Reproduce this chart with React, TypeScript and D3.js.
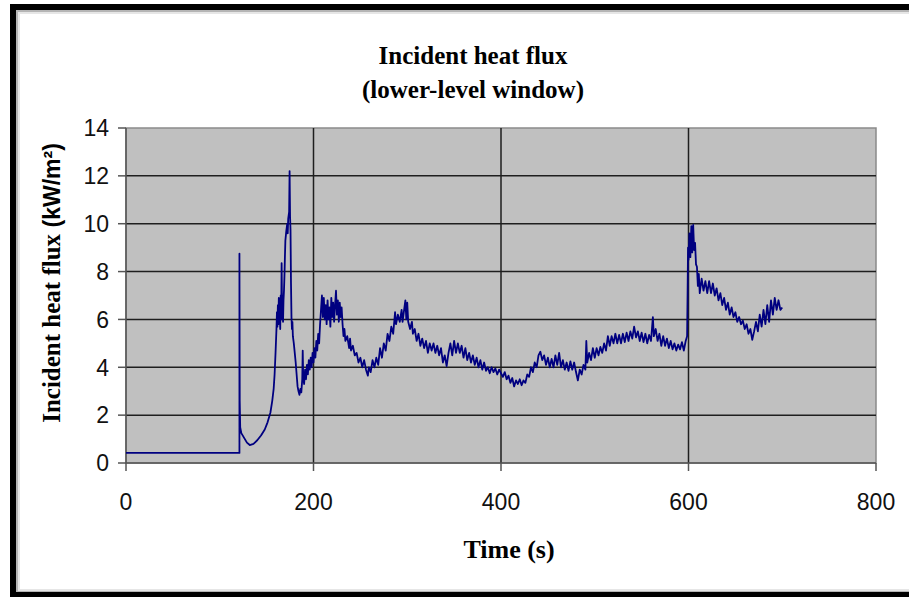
import React from "react";
import * as d3 from "d3";

// ---- Data ----
const xTicks = [0, 200, 400, 600, 800];
const yTicks = [0, 2, 4, 6, 8, 10, 12, 14];

// time (s), incident heat flux (kW/m²)
const preIgnition: [number, number][] = [
  [0, 0.42], [120.5, 0.42],
];

const ignitionAndFirstPeak: [number, number][] = [
  [121, 0.42], [121, 8.75], [121.3, 2.6], [121.8, 1.5], [123, 1.25], [126, 1.05], [129, 0.85],
  [132, 0.75], [136, 0.8], [140, 0.95], [144, 1.15], [148, 1.4], [151, 1.7], [154, 2.1],
  [156, 2.6], [157.5, 3.1], [158.5, 3.7], [159.5, 4.6], [160.5, 5.6], [161, 6.3], [161.5, 5.7],
  [162, 6.6], [162.5, 5.8], [163, 6.9], [163.5, 6.0], [164, 6.4], [164.5, 5.6], [165, 7.0],
  [165.5, 6.0], [166, 8.35], [166.5, 6.2], [167, 6.6], [167.5, 5.9], [168, 6.8], [168.5, 7.2],
  [169, 7.8], [169.5, 8.6], [170, 9.3], [171, 9.7], [172, 10.0], [172.5, 9.6], [173, 10.2],
  [174, 10.5], [174.5, 12.2], [175, 10.3], [175.5, 9.7], [176, 7.5], [176.5, 6.1], [177, 5.6],
  [177.5, 5.9], [178, 5.3], [179, 5.0], [180, 4.6], [181, 4.2], [182, 3.7], [183, 3.2],
  [184, 3.0], [185, 2.85],
];

const secondPeak: [number, number][] = [
  [186, 3.1], [187, 2.95], [188, 3.5], [188.5, 4.7], [189, 3.6], [190, 3.3], [191, 3.9],
  [192, 3.5], [193, 4.1], [194, 3.7], [195, 4.3], [196, 3.9], [197, 4.4], [198, 4.0],
  [199, 4.6], [200, 4.2], [201, 4.8], [202, 4.4], [203, 5.1], [204, 4.7], [205, 5.4],
  [206, 5.0], [207, 5.8], [208, 6.4], [209, 7.0], [210, 6.1], [211, 6.9], [212, 6.0],
  [213, 6.6], [214, 5.8], [215, 6.8], [216, 6.0], [217, 6.5], [218, 5.7], [219, 6.9],
  [220, 6.1], [221, 6.7], [222, 5.9], [223, 6.6], [224, 7.2], [225, 6.2], [226, 6.8],
  [227, 5.9], [228, 6.7], [229, 6.1], [230, 6.5], [231, 5.8], [232, 5.3], [233, 5.6],
  [234, 5.1], [236, 5.3], [238, 4.8], [239, 5.2], [240, 4.7], [242, 4.9], [244, 4.5],
  [246, 4.6], [248, 4.2], [250, 4.4], [252, 4.0], [254, 4.3], [256, 3.9], [258, 3.65],
];

const thirdPeak: [number, number][] = [
  [259, 4.0], [261, 3.8], [263, 4.3], [265, 4.0], [267, 4.4], [269, 4.1], [271, 4.8],
  [273, 4.4], [275, 5.0], [277, 4.7], [279, 5.4], [281, 5.1], [283, 5.7], [285, 5.4],
  [287, 6.3], [288, 5.8], [290, 6.2], [292, 5.9], [294, 6.4], [295, 5.9], [297, 6.5],
  [298, 6.8], [299, 6.0], [300, 6.7], [301, 5.9], [303, 5.6], [305, 5.9], [306, 5.4],
  [308, 5.6], [310, 5.1], [312, 5.4], [314, 4.9], [316, 5.2], [318, 4.8], [320, 5.1],
  [322, 4.6], [324, 5.0], [326, 4.7], [328, 5.0], [330, 4.6], [332, 4.9], [334, 4.5],
  [336, 4.8], [338, 4.2], [340, 4.5], [342, 4.05], [344, 4.6], [346, 5.0], [348, 4.5],
  [350, 5.1], [352, 4.6], [354, 5.0], [356, 4.6], [358, 4.9], [360, 4.4], [362, 4.8],
  [364, 4.3], [366, 4.6], [368, 4.2], [370, 4.5], [372, 4.1], [374, 4.4], [376, 4.0],
  [378, 4.3], [380, 3.9], [382, 4.2], [384, 3.85], [386, 4.0], [388, 3.75], [390, 4.0],
  [392, 3.8], [394, 3.95], [396, 3.7], [398, 3.9], [400, 3.75], [402, 3.6], [404, 3.8],
  [406, 3.5], [408, 3.65], [410, 3.35], [412, 3.55], [414, 3.2], [416, 3.45], [418, 3.3],
  [420, 3.5], [422, 3.25], [424, 3.45], [426, 3.35],
];

const plateau: [number, number][] = [
  [428, 3.7], [430, 3.6], [432, 4.0], [434, 3.8], [436, 4.2], [438, 4.0], [440, 4.5],
  [442, 4.65], [444, 4.3], [446, 4.5], [448, 4.1], [450, 4.4], [452, 4.0], [454, 4.35],
  [456, 4.0], [458, 4.5], [460, 4.1], [462, 4.6], [464, 4.0], [466, 4.3], [468, 3.9],
  [470, 4.2], [472, 3.85], [474, 4.25], [476, 3.9], [478, 4.2], [480, 3.8], [482, 3.45],
  [484, 3.9], [486, 3.7], [488, 4.1], [490, 3.9], [491, 5.1], [492, 4.2], [494, 4.6],
  [496, 4.3], [498, 4.8], [500, 4.4], [502, 4.8], [504, 4.5], [506, 4.85], [508, 4.6],
  [510, 5.0], [512, 4.7], [514, 5.3], [516, 4.9], [518, 5.3], [520, 5.0], [522, 5.4],
  [524, 5.0], [526, 5.35], [528, 5.0], [530, 5.4], [532, 5.05], [534, 5.45], [536, 5.1],
  [538, 5.5], [540, 5.2], [542, 5.7], [544, 5.25], [546, 5.5], [548, 5.1], [550, 5.45],
  [552, 5.05], [554, 5.4], [556, 5.0], [558, 5.35], [560, 5.1], [562, 6.1], [563, 5.3],
  [565, 5.6], [567, 5.1], [569, 5.4], [571, 4.9], [573, 5.3], [575, 4.9], [577, 5.2],
  [579, 4.8], [581, 5.1], [583, 4.75], [585, 5.0], [587, 4.7], [589, 4.95], [591, 4.75],
  [593, 5.05], [595, 4.7], [597, 5.1], [598.5, 5.3],
];

const windowBreak: [number, number][] = [
  [599, 7.0], [599.5, 9.0], [600, 8.5], [601, 9.6], [602, 8.6], [603, 9.9], [604, 8.8],
  [605, 9.95], [606, 8.9], [607, 9.2], [608, 8.3], [609, 8.2], [610, 7.4], [611, 7.9],
  [612, 7.1], [614, 7.7], [616, 7.2], [618, 7.6], [620, 7.1], [622, 7.6], [624, 7.1],
  [626, 7.5], [628, 7.0], [630, 7.3], [632, 6.8], [634, 7.1], [636, 6.6], [638, 6.9],
  [640, 6.4], [642, 6.7], [644, 6.2], [646, 6.5], [648, 6.1], [650, 6.3], [652, 5.9],
  [654, 6.1], [656, 5.8], [658, 5.95], [660, 5.6], [662, 5.8], [664, 5.4], [666, 5.6],
  [668, 5.15], [670, 5.5], [672, 5.9], [674, 5.5], [676, 6.2], [678, 5.7], [680, 6.4],
  [682, 5.8], [684, 6.6], [686, 5.9], [688, 6.8], [690, 6.2], [692, 6.9], [694, 6.4],
  [696, 6.8], [698, 6.4], [700, 6.5],
];

const series: [number, number][] = [
  ...preIgnition, ...ignitionAndFirstPeak, ...secondPeak, ...thirdPeak, ...plateau, ...windowBreak,
];

const titleLines = ["Incident heat flux", "(lower-level window)"];
const yTitleSerif = "Incident heat flux";
const yTitleSans = " (kW/m²)";
const xTitle = "Time (s)";

export default function App() {
  const W = 909, H = 597;
  const x = d3.scaleLinear().domain([0, 800]).range([126, 876]);
  const y = d3.scaleLinear().domain([0, 14]).range([463, 128]);
  const line = d3.line<[number, number]>().x(d => x(d[0])).y(d => y(d[1]));
  const serif = "'Liberation Serif', 'Times New Roman', serif";
  const sans = "'Liberation Sans', Arial, sans-serif";
  const [x0, x1] = x.range();
  const [y0, y1] = y.range();

  return (
    <svg width={W} height={H} style={{ position: "absolute", left: 0, top: 0, display: "block" }}>
      <rect x={0} y={0} width={W} height={H} fill="#fff" />
      {/* outer frame with soft inner shadow */}
      <rect x={19} y={13} width={W} height={577} fill="none" stroke="#e6e6e6" strokeWidth={2} />
      <rect x={17} y={11} width={W} height={581} fill="none" stroke="#b5b5b5" strokeWidth={2} />
      <rect x={13} y={7} width={W + 10} height={588} fill="none" stroke="#000" strokeWidth={6} />

      {/* title */}
      {titleLines.map((t, i) => (
        <text key={t} x={473} y={64 + i * 34} textAnchor="middle" fontFamily={serif}
          fontWeight="bold" fontSize={25} fill="#000">{t}</text>
      ))}

      {/* plot area */}
      <rect x={x0} y={y1} width={x1 - x0} height={y0 - y1} fill="#c0c0c0" stroke="#8a8a8a" strokeWidth={1.5} />
      {yTicks.filter(v => v > 0 && v < 14).map(v => (
        <line key={"gy" + v} x1={x0} x2={x1} y1={y(v)} y2={y(v)} stroke="#1e1e1e" strokeWidth={1.5} />
      ))}
      {xTicks.filter(v => v > 0 && v < 800).map(v => (
        <line key={"gx" + v} x1={x(v)} x2={x(v)} y1={y1} y2={y0} stroke="#1e1e1e" strokeWidth={1.5} />
      ))}

      {/* axes */}
      <line x1={x0} x2={x0} y1={y1} y2={y0} stroke="#555" strokeWidth={1.5} />
      <line x1={x0} x2={x1} y1={y0} y2={y0} stroke="#555" strokeWidth={1.5} />
      {yTicks.map(v => (
        <g key={"ty" + v}>
          <line x1={x0 - 8} x2={x0} y1={y(v)} y2={y(v)} stroke="#555" strokeWidth={1.5} />
          <text x={109} y={y(v)} dy="0.36em" textAnchor="end" fontFamily={sans} fontSize={23} fill="#111">{v}</text>
        </g>
      ))}
      {xTicks.map(v => (
        <g key={"tx" + v}>
          <line x1={x(v)} x2={x(v)} y1={y0} y2={y0 + 8} stroke="#555" strokeWidth={1.5} />
          <text x={x(v)} y={510} textAnchor="middle" fontFamily={sans} fontSize={23} fill="#111">{v}</text>
        </g>
      ))}

      {/* series */}
      <path d={line(series) ?? ""} fill="none" stroke="#000080" strokeWidth={1.8} strokeLinejoin="round" />

      {/* axis titles */}
      <text transform="translate(60,283) rotate(-90)" textAnchor="middle" fontWeight="bold" fill="#000">
        <tspan fontFamily={serif} fontSize={25}>{yTitleSerif}</tspan>
        <tspan fontFamily={sans} fontSize={23}>{yTitleSans}</tspan>
      </text>
      <text x={509} y={558} textAnchor="middle" fontFamily={serif} fontWeight="bold" fontSize={26} fill="#000">{xTitle}</text>
    </svg>
  );
}
